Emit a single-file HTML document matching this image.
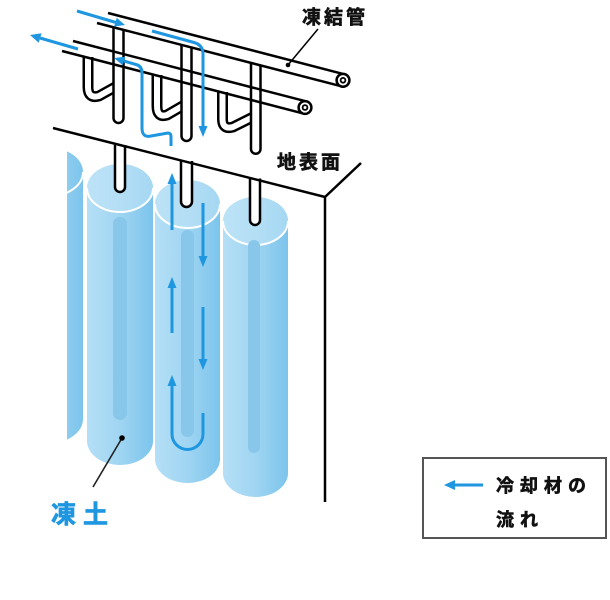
<!DOCTYPE html>
<html><head><meta charset="utf-8"><style>
html,body{margin:0;padding:0;background:#fff;}
svg{display:block;}
text{font-family:"Liberation Sans","Noto Sans CJK JP",sans-serif;font-weight:bold;}
</style></head><body>
<svg width="610" height="600" viewBox="0 0 610 600" xmlns="http://www.w3.org/2000/svg">
<defs>
<linearGradient id="cg" x1="0" x2="1" y1="0" y2="0">
<stop offset="0" stop-color="#b4dff6"/>
<stop offset="0.5" stop-color="#a0d5f2"/>
<stop offset="1" stop-color="#7cc4ec"/>
</linearGradient>
<clipPath id="c0clip"><rect x="67" y="0" width="100" height="600"/></clipPath>
</defs>
<rect width="610" height="600" fill="#fff"/>

<!-- cylinders -->
<g clip-path="url(#c0clip)">
<path d="M17 172 A33 24 0 0 1 83 172 L83 419 A33 24 0 0 1 17 419 Z" fill="url(#cg)"/>
<path d="M17 172 A33 24 0 0 0 83 172" fill="none" stroke="#fff" stroke-width="2"/>
</g>
<path d="M87 188 A33 24 0 0 1 153 188 L153 441 A33 24 0 0 1 87 441 Z" fill="url(#cg)"/>
<ellipse cx="120" cy="188" rx="33" ry="24" fill="#c2e5f7" opacity="0.6"/>
<path d="M87 188 A33 24 0 0 0 153 188" fill="none" stroke="#fff" stroke-width="2"/>
<rect x="113" y="217" width="14" height="203" rx="7" fill="#88c6ea"/>

<path d="M155 204 A32.5 24 0 0 1 220 204 L220 459 A32.5 24 0 0 1 155 459 Z" fill="url(#cg)"/>
<ellipse cx="187.5" cy="204" rx="32.5" ry="24" fill="#c2e5f7" opacity="0.6"/>
<path d="M155 204 A32.5 24 0 0 0 220 204" fill="none" stroke="#fff" stroke-width="2"/>
<rect x="181" y="230" width="13" height="207" rx="6.5" fill="#88c6ea"/>

<path d="M223 221 A32.5 24 0 0 1 288 221 L288 473 A32.5 24 0 0 1 223 473 Z" fill="url(#cg)"/>
<ellipse cx="255.5" cy="221" rx="32.5" ry="24" fill="#c2e5f7" opacity="0.6"/>
<path d="M223 221 A32.5 24 0 0 0 288 221" fill="none" stroke="#fff" stroke-width="2"/>
<rect x="248" y="240" width="12" height="213" rx="6" fill="#88c6ea"/>

<!-- below ground pipes -->
<g fill="#fff" stroke="#000" stroke-width="2.5">
<path d="M115 145 V187 A5 5 0 0 0 125 187 V145"/>
<path d="M181 161 V201.5 A5.5 5.5 0 0 0 192 201.5 V161"/>
<path d="M250 178.5 V220 A5 5 0 0 0 260 220 V178.5"/>
</g>

<!-- ground -->
<path d="M53 128 L325 197 L361 163 M325 197 V502" fill="none" stroke="#000" stroke-width="2.5" stroke-linejoin="miter"/>

<!-- blue arrows in cylinder -->
<g stroke="#1e96e0" stroke-width="3" fill="none">
<path d="M172 230 V182"/>
<path d="M203 203 V258"/>
<path d="M172 333 V286"/>
<path d="M203 307 V361"/>
<path d="M172 384 V434 A15.5 15.5 0 0 0 203 434 V413"/>
</g>
<g fill="#1e96e0">
<polygon points="172,173 167.5,184 176.5,184"/>
<polygon points="203,267 198.5,256 207.5,256"/>
<polygon points="172,277 167.5,288 176.5,288"/>
<polygon points="203,370 198.5,359 207.5,359"/>
<polygon points="172,375 167.5,386 176.5,386"/>
</g>

<!-- hooks -->
<g fill="none" stroke="#000" stroke-width="11" stroke-linejoin="round">
<path d="M88 57 V87 Q88 99 99 96 L117 86"/>
<path d="M157 75 V106 Q157 118 167 115 L186 104"/>
<path d="M222.5 92 V119 Q222.5 130 233 127 L255 116"/>
</g>
<g fill="none" stroke="#fff" stroke-width="6" stroke-linejoin="round">
<path d="M88 55 V87 Q88 99 99 96 L117 86"/>
<path d="M157 73 V106 Q157 118 167 115 L186 104"/>
<path d="M222.5 90 V119 Q222.5 130 233 127 L255 116"/>
</g>

<!-- above ground pipes -->
<g fill="#fff" stroke="#000" stroke-width="2.5">
<path d="M113.5 27 V118 A5 5 0 0 0 123.5 118 V29.5"/>
<path d="M181.5 45 V136 A5 5 0 0 0 191.5 136 V47.5"/>
<path d="M251 63.5 V149 A4.75 4.75 0 0 0 260.5 149 V66"/>
</g>

<!-- tubes -->
<g stroke="#000" stroke-width="2.5" fill="none">
<line x1="108" y1="13" x2="343" y2="73.9"/>
<line x1="97" y1="23" x2="343" y2="86.7"/>
<line x1="73" y1="41" x2="305" y2="101.1"/>
<line x1="62" y1="51" x2="305" y2="113.9"/>
</g>
<circle cx="343" cy="80.3" r="6.4" fill="#fff" stroke="#000" stroke-width="2.5"/>
<circle cx="343" cy="80.3" r="2.4" fill="#fff" stroke="#000" stroke-width="1.8"/>
<circle cx="305" cy="107.5" r="6.4" fill="#fff" stroke="#000" stroke-width="2.5"/>
<circle cx="305" cy="107.5" r="2.4" fill="#fff" stroke="#000" stroke-width="1.8"/>

<!-- blue arrows top -->
<g stroke="#1e96e0" stroke-width="3" fill="none" stroke-linejoin="round">
<path d="M77 11 L116 22.5"/>
<path d="M78 49 L40 38"/>
<path d="M124 61 L136 64.5 Q142 66 142 73 L142 128 Q142 138 151 136 L168 133 Q171 133 171 137 L171 146"/>
<path d="M152 31 L194 42.5 Q203 45 203 54 L203 127"/>
</g>
<g fill="#1e96e0">
<polygon points="125,25 114.1,26.5 116.7,17.9"/>
<polygon points="30,35 41.5,33.2 38.7,42.8"/>
<polygon points="114,58 125.3,56.7 122.7,65.3"/>
<polygon points="203,137 198.5,126 207.5,126"/>
</g>

<!-- leaders -->
<line x1="318" y1="29" x2="288" y2="65" stroke="#000" stroke-width="1.5"/>
<circle cx="288" cy="65" r="2.3" fill="#000"/>
<line x1="93" y1="487" x2="122" y2="438" stroke="#222" stroke-width="1.6"/>
<circle cx="122" cy="438" r="2.8" fill="#000"/>

<!-- labels -->
<text x="302" y="23.5" font-size="19" fill="#111" stroke="#111" stroke-width="0.6" style="letter-spacing:3px">凍結管</text>
<text x="277" y="168.5" font-size="19" fill="#111" stroke="#111" stroke-width="0.6" style="letter-spacing:3px">地表面</text>
<text x="51" y="523" font-size="25" fill="#1e96e0" stroke="#1e96e0" stroke-width="0.7" style="letter-spacing:7px">凍土</text>

<!-- legend -->
<rect x="423" y="458" width="183" height="80" fill="#fff" stroke="#555" stroke-width="2"/>
<line x1="483" y1="485" x2="452" y2="485" stroke="#1e96e0" stroke-width="3"/>
<polygon points="444,485 455,480 455,490" fill="#1e96e0"/>
<text x="496" y="492" font-size="18" fill="#111" stroke="#111" stroke-width="0.6" style="letter-spacing:6px">冷却材の</text>
<text x="496" y="526" font-size="18" fill="#111" stroke="#111" stroke-width="0.6" style="letter-spacing:6px">流れ</text>
</svg>
</body></html>
